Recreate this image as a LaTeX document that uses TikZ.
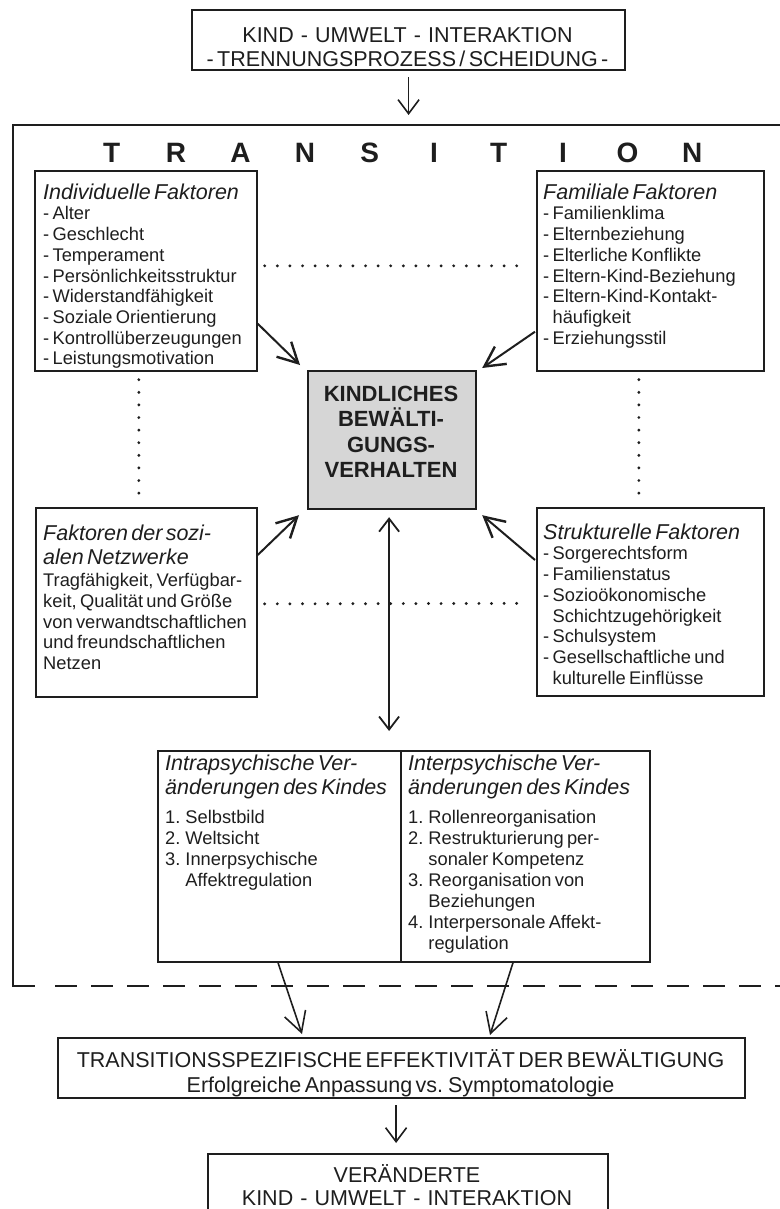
\documentclass[tikz,border=0pt]{standalone}
\usepackage{fontspec}
\setmainfont{Liberation Sans}
\usetikzlibrary{arrows.meta,calc}
\setlength{\parindent}{0pt}
\newcommand{\bigf}{\fontsize{21.5}{24.5}\selectfont}
\newcommand{\smf}{\fontsize{18.3}{20.7}\selectfont}
\newcommand{\st}{\rule{0pt}{20pt}}
\newcommand{\myPad}[1]{\leavevmode\phantom{#1}}
\newcommand{\dsp}{\hspace{0.33em}-\hspace{0.33em}}
\definecolor{ink}{HTML}{1E1E1E}
\definecolor{cenfill}{HTML}{D6D6D6}
\tikzset{
  box/.style={draw=ink, line width=1.7pt, inner sep=0pt, anchor=north west},
  obox/.style={box, line width=2.2pt},
  txt/.style={inner sep=0pt, anchor=north west, align=left, text=ink},
  ctxt/.style={inner sep=0pt, anchor=north, align=center, text=ink},
  arr/.style={draw=ink, line width=1.6pt, -{Straight Barb[length=14pt,width=21pt,line width=1.6pt]}},
  arrB/.style={draw=ink, line width=1.6pt, -{Straight Barb[length=20pt,width=22pt,line width=1.6pt]}},
  arrIn/.style={draw=ink, line width=2pt, -{Straight Barb[length=20pt,width=21pt,line width=2.4pt]}},
  arrDbl/.style={draw=ink, line width=1.8pt, {Straight Barb[length=13pt,width=20pt,line width=1.8pt]}-{Straight Barb[length=13pt,width=20pt,line width=1.8pt]}},
  dots/.style={draw=ink, line width=3.2pt, line cap=round, dash pattern=on 0pt off 12.6pt}
}
\begin{document}
\begin{tikzpicture}[x=1pt,y=-1pt]
\useasboundingbox (0,0) rectangle (779,1209);
% top box
\node[obox, minimum width=433pt, minimum height=60pt] (top) at (191,9) {};
\node[ctxt, text width=430pt] (topT) at (407.5,22) {\bigf\st KIND\dsp UMWELT\dsp INTERAKTION\par - TRENNUNGSPROZESS / SCHEIDUNG -\par};
% transition frame
\coordinate (bigTL) at (13,125);
\coordinate (bigBL) at (13,986);
\draw[ink, line width=2.4pt] (790,125) -- (bigTL) -- (bigBL) -- ($(bigBL)+(22,0)$);
\draw[ink, line width=2pt, dash pattern=on 22pt off 14pt] ($(bigBL)+(42,0)$) -- (800,986);
\draw[arr, shorten <=6pt, shorten >=10pt] (top.south) -- (top.south |- bigTL);
\foreach \l [count=\i from 0] in {T,R,A,N,S,I,T,I,O,N}
  \node[anchor=base, inner sep=0pt, text=ink, font=\fontsize{28}{30}\selectfont\bfseries] (tr\i) at (111.6+64.5*\i,163) {\l};
% factor boxes
\node[box, minimum width=222pt, minimum height=200pt] (ind) at (34,170) {};
\node[box, minimum width=227pt, minimum height=200pt] (fam) at (536,170) {};
\node[box, minimum width=221pt, minimum height=189pt] (soz) at (35,507) {};
\node[box, minimum width=227pt, minimum height=188pt] (str) at (536,507) {};
\node[box, fill=cenfill, line width=2.2pt, minimum width=168pt, minimum height=138pt] (cen) at (307,370) {};
\node[txt, text width=215pt] (indT) at (43,179) {\st{\bigf\itshape Individuelle Faktoren}\par\smf
- Alter\par - Geschlecht\par - Temperament\par - Persönlichkeitsstruktur\par
- Widerstandfähigkeit\par - Soziale Orientierung\par - Kontrollüberzeugungen\par - Leistungsmotivation\par};
\node[txt, text width=218pt] (famT) at (543,179) {\st{\bigf\itshape Familiale Faktoren}\par\smf
- Familienklima\par - Elternbeziehung\par - Elterliche Konflikte\par - Eltern-Kind-Beziehung\par
- Eltern-Kind-Kontakt-\par \myPad{- }häufigkeit\par - Erziehungsstil\par};
\node[txt, text width=215pt] (sozT) at (43,520) {\st{\bigf\itshape Faktoren der sozi-\par alen Netzwerke\par}\vspace{1.3pt}\smf
Tragfähigkeit, Verfügbar-\par keit, Qualität und Größe\par von verwandtschaftlichen\par und freundschaftlichen\par Netzen\par};
\node[txt, text width=218pt] (strT) at (543,519) {\st{\bigf\itshape Strukturelle Faktoren}\par\smf
- Sorgerechtsform\par - Familienstatus\par - Sozioökonomische\par \myPad{- }Schichtzugehörigkeit\par
- Schulsystem\par - Gesellschaftliche und\par \myPad{- }kulturelle Einflüsse\par};
\node[ctxt, text width=165pt, font=\bfseries] (cenT) at (391,381) {\fontsize{22}{25.5}\selectfont\st KINDLICHES\par BEWÄLTI-\par GUNGS-\par VERHALTEN\par};
% dotted links
\draw[dots] ($(ind.east)+(7,-5)$) -- ($(fam.west)+(-8,-5)$);
\draw[dots] ($(soz.east)+(7,1.5)$) -- ($(str.west)+(-8,1.5)$);
\draw[dots] ($(ind.south)+(-7,8)$) -- ($(soz.north)+(-7.5,-4)$);
\draw[dots] ($(fam.south)+(-11.5,8)$) -- ($(str.north)+(-11.5,-4)$);
% arrows to centre
\draw[arrIn] ($(ind.south east)+(0,-48)$) -- ($(cen.north west)+(-7,-5)$);
\draw[arrIn] ($(fam.south west)+(-1,-40)$) -- ($(cen.north east)+(5,-2)$);
\draw[arrIn] ($(soz.north east)+(0,48)$) -- ($(cen.south west)+(-8,5)$);
\draw[arrIn] ($(str.north west)+(-1,53)$) -- ($(cen.south east)+(5,5)$);
% bottom two-column box
\node[box, minimum width=492pt, minimum height=211pt] (bot) at (157,750) {};
\draw[ink, line width=1.4pt] ($(bot.north west)+(244,0)$) -- ($(bot.south west)+(244,0)$);
\draw[arrDbl] ($(cen.south)+(-3,7)$) -- ($(bot.north -| cen.south)+(-3,-19)$);
\node[txt, text width=250pt] (botL) at (165,750) {\st{\bigf\itshape Intrapsychische Ver-\par änderungen des Kindes\par}\vspace{8pt}\fontsize{18.3}{21}\selectfont
1. Selbstbild\par 2. Weltsicht\par 3. Innerpsychische\par \myPad{3. }Affektregulation\par};
\node[txt, text width=250pt] (botR) at (408,750) {\st{\bigf\itshape Interpsychische Ver-\par änderungen des Kindes\par}\vspace{8pt}\fontsize{18.3}{21}\selectfont
1. Rollenreorganisation\par 2. Restrukturierung per-\par \myPad{2. }sonaler Kompetenz\par
3. Reorganisation von\par \myPad{3. }Beziehungen\par 4. Interpersonale Affekt-\par \myPad{4. }regulation\par};
% outcome boxes
\node[obox, minimum width=687pt, minimum height=60pt] (tsp) at (57,1037) {};
\node[ctxt, text width=684pt] (tspT) at (400.5,1047) {\fontsize{21.5}{25}\selectfont\st TRANSITIONSSPEZIFISCHE EFFEKTIVITÄT DER BEWÄLTIGUNG\par Erfolgreiche Anpassung vs. Symptomatologie\par};
\draw[arrB] ($(bot.south west)+(121,0)$) -- ($(tsp.north west)+(245,-3)$);
\draw[arrB] ($(bot.south west)+(356,0)$) -- ($(tsp.north west)+(433,-2)$);
\node[obox, minimum width=400pt, minimum height=80pt] (fin) at (207,1153) {};
\node[ctxt, text width=396pt] (finT) at (407,1162) {\fontsize{21.5}{23.5}\selectfont\st VERÄNDERTE\par KIND\dsp UMWELT\dsp INTERAKTION\par};
\draw[arr] ($(tsp.south)+(-5.5,6)$) -- ($(fin.north)+(-12,-10)$);
\end{tikzpicture}
\end{document}
